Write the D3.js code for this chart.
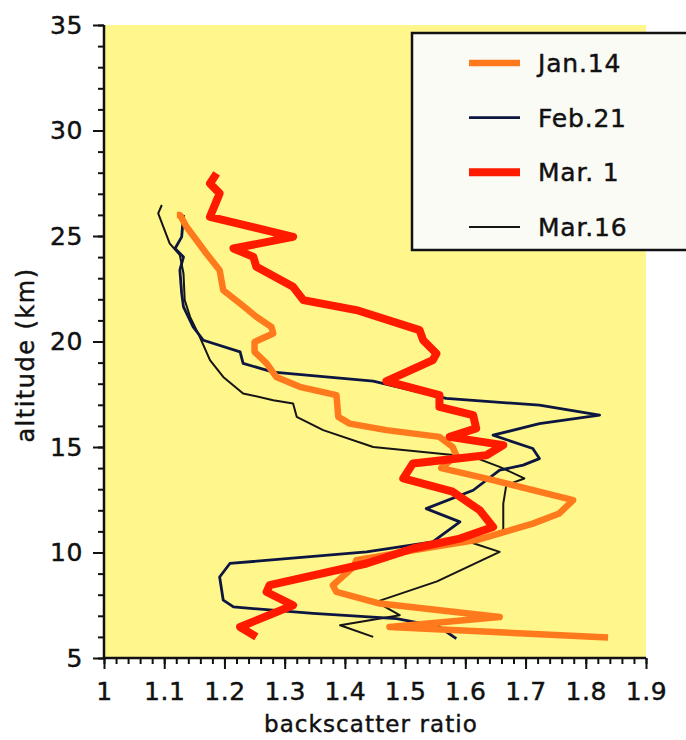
<!DOCTYPE html>
<html>
<head>
<meta charset="utf-8">
<script src="https://cdn.jsdelivr.net/npm/d3@7"></script>
<style>
  html, body { margin: 0; padding: 0; background: #ffffff; }
  svg { display: block; }
  text { font-family: "DejaVu Sans", Verdana, sans-serif; fill: #111; stroke: #111; stroke-width: 0.45px; }
</style>
</head>
<body>
<svg id="chart" width="686" height="740"></svg>
<script>
// ---- data: [backscatter ratio, altitude km] ----
const seriesNames = ["Jan.14", "Feb.21", "Mar. 1", "Mar.16"];
const seriesColors = ["#ff7a1c", "#0d1640", "#ff1a00", "#151515"];
const seriesWidths = [6.5, 2.8, 8, 2];

const jan14 = [[1.121,26.0],[1.126,26.0],[1.137,25.44],[1.170,24.17],[1.192,23.38],[1.198,22.43],[1.226,21.8],[1.253,21.17],[1.278,20.69],[1.281,20.38],[1.250,19.98],[1.250,19.51],[1.270,18.96],[1.286,18.32],[1.325,17.85],[1.386,17.46],[1.389,16.43],[1.408,16.11],[1.469,15.80],[1.557,15.48],[1.579,15.0],[1.585,14.6],[1.560,14.0],[1.646,13.43],[1.779,12.48],[1.756,11.85],[1.712,11.37],[1.620,10.6],[1.513,10.1],[1.419,9.63],[1.414,9.31],[1.380,8.45],[1.386,8.13],[1.458,7.58],[1.657,6.94],[1.474,6.47],[1.837,5.97]];

const feb21 = [[1.132,26.0],[1.129,24.96],[1.118,24.41],[1.132,24.01],[1.126,23.38],[1.129,22.28],[1.132,21.64],[1.148,20.69],[1.165,20.06],[1.226,19.51],[1.231,18.96],[1.281,18.55],[1.447,18.12],[1.568,17.30],[1.723,16.98],[1.823,16.51],[1.723,16.11],[1.646,15.56],[1.712,14.93],[1.723,14.45],[1.696,14.14],[1.657,13.90],[1.613,12.95],[1.535,12.08],[1.591,11.45],[1.557,10.74],[1.546,10.5],[1.436,10.03],[1.209,9.48],[1.192,8.84],[1.198,7.74],[1.215,7.42],[1.347,7.11],[1.486,6.87],[1.557,6.47],[1.585,5.92]];

const mar1 = [[1.187,27.97],[1.176,27.49],[1.192,27.02],[1.176,25.91],[1.314,24.96],[1.215,24.41],[1.248,24.01],[1.253,23.54],[1.314,22.59],[1.331,21.96],[1.419,21.49],[1.524,20.54],[1.530,20.06],[1.552,19.43],[1.546,19.12],[1.469,18.12],[1.557,17.46],[1.557,16.90],[1.613,16.51],[1.618,15.88],[1.574,15.48],[1.663,15.09],[1.635,14.61],[1.513,14.22],[1.497,13.51],[1.579,12.88],[1.624,12.0],[1.646,11.21],[1.591,10.66],[1.513,10.19],[1.436,9.48],[1.275,8.45],[1.270,8.13],[1.314,7.5],[1.226,6.47],[1.253,6.0]];

const mar16 = [[1.096,26.47],[1.090,26.07],[1.109,24.65],[1.126,24.09],[1.132,23.22],[1.134,21.96],[1.143,21.17],[1.159,20.22],[1.176,19.12],[1.198,18.32],[1.231,17.54],[1.281,17.22],[1.314,17.06],[1.320,16.43],[1.364,15.80],[1.447,15.0],[1.613,14.53],[1.657,14.06],[1.698,13.51],[1.668,13.19],[1.663,12.32],[1.663,11.06],[1.607,10.5],[1.657,10.03],[1.553,8.63],[1.452,7.66],[1.491,7.03],[1.392,6.55],[1.447,6.0]];

const seriesData = [jan14, feb21, mar1, mar16];
const drawOrder = [3, 1, 0, 2];

const xTicks = [1, 1.1, 1.2, 1.3, 1.4, 1.5, 1.6, 1.7, 1.8, 1.9];
const yTicks = [5, 10, 15, 20, 25, 30, 35];
const xLabel = "backscatter ratio";
const yLabel = "altitude (km)";

// ---- layout ----
const svg = d3.select("#chart");
const pLeft = 104, pRight = 646, pTop = 25, pBottom = 658;

const x = d3.scaleLinear().domain([1, 1.9]).range([pLeft, pRight]);
const y = d3.scaleLinear().domain([5, 35]).range([pBottom, pTop]);

svg.append("rect")
  .attr("x", pLeft).attr("y", pTop)
  .attr("width", pRight - pLeft).attr("height", pBottom - pTop)
  .attr("fill", "#fff78c");

const line = d3.line().x(d => x(d[0])).y(d => y(d[1]));
const g = svg.append("g");
drawOrder.forEach(i => {
  g.append("path")
    .datum(seriesData[i])
    .attr("d", line)
    .attr("fill", "none")
    .attr("stroke", seriesColors[i])
    .attr("stroke-width", seriesWidths[i])
    .attr("stroke-linejoin", "round")
    .attr("stroke-linecap", "butt");
});

const fmtX = d => d === 1 ? "1" : d3.format(".1f")(d);
const xMinor = d3.range(0, 46).map(i => 1 + i * 0.02).filter(v => v <= 1.9001);
const yMinor = d3.range(5, 36, 1);

const xAxisMinor = svg.append("g").attr("transform", `translate(0,${pBottom})`)
  .call(d3.axisBottom(x).tickValues(xMinor).tickSize(6).tickFormat(""));
const xAxis = svg.append("g").attr("transform", `translate(0,${pBottom})`)
  .call(d3.axisBottom(x).tickValues(xTicks).tickSize(11).tickPadding(13).tickFormat(fmtX));
const yAxisMinor = svg.append("g").attr("transform", `translate(${pLeft},0)`)
  .call(d3.axisLeft(y).tickValues(yMinor).tickSize(6).tickFormat(""));
const yAxis = svg.append("g").attr("transform", `translate(${pLeft},0)`)
  .call(d3.axisLeft(y).tickValues(yTicks).tickSize(11).tickPadding(10));

[xAxisMinor, xAxis, yAxisMinor, yAxis].forEach(a => {
  a.selectAll(".domain").attr("stroke", "#111").attr("stroke-width", 2.5);
  a.selectAll(".tick line").attr("stroke", "#111").attr("stroke-width", 2);
});
xAxisMinor.select(".domain").remove();
yAxisMinor.select(".domain").remove();
xAxis.select(".domain").attr("d", `M${pLeft},0H${pRight}`);
yAxis.select(".domain").attr("d", `M0,${pTop}V${pBottom}`);
[xAxis, yAxis].forEach(a => a.selectAll(".tick text")
  .attr("font-size", 25).attr("fill", "#111")
  .attr("font-family", "DejaVu Sans, Verdana, sans-serif")
  .attr("letter-spacing", 0.6));

svg.append("text")
  .attr("x", 371).attr("y", 732)
  .attr("text-anchor", "middle")
  .attr("font-size", 23)
  .attr("letter-spacing", 1.1)
  .text(xLabel);
svg.append("text")
  .attr("transform", `translate(34,355) rotate(-90)`)
  .attr("text-anchor", "middle")
  .attr("font-size", 24)
  .attr("letter-spacing", 1.5)
  .text(yLabel);

const lg = svg.append("g");
lg.append("rect")
  .attr("x", 412).attr("y", 33)
  .attr("width", 300).attr("height", 217)
  .attr("fill", "#fbfbf6")
  .attr("stroke", "#111").attr("stroke-width", 2.5);
const legendRowY = d3.scalePoint().domain(seriesNames).range([63, 227]);
seriesNames.forEach((name, i) => {
  const yy = legendRowY(name);
  lg.append("line")
    .attr("x1", 469).attr("x2", 520)
    .attr("y1", yy).attr("y2", yy)
    .attr("stroke", seriesColors[i])
    .attr("stroke-width", seriesWidths[i]);
  lg.append("text")
    .attr("x", 538).attr("y", yy)
    .attr("dy", "0.36em")
    .attr("font-size", 25)
    .attr("letter-spacing", 0.8)
    .text(name);
});
</script>
</body>
</html>
